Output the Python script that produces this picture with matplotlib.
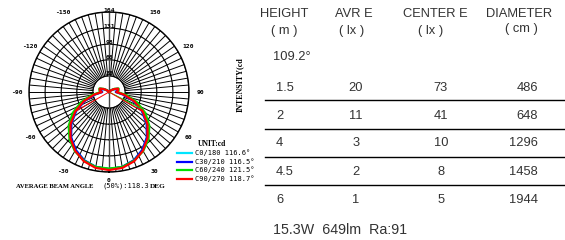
import numpy as np
import matplotlib
matplotlib.use("Agg")
import matplotlib.pyplot as plt

W, H = 565, 240

# ---------------- data ----------------
gamma_deg = [-180, -170, -160, -150, -140, -130, -120, -110, -100, -90,
             -80, -70, -60, -50, -40, -30, -20, -10, 0,
             10, 20, 30, 40, 50, 60, 70, 80, 90,
             100, 110, 120, 130, 140, 150, 160, 170, 180]

c0_180 = [0, 0, 0, 0, 2, 5, 11, 19, 18, 14, 30, 54, 78, 101, 121, 137, 149, 156, 158,
          156, 149, 137, 121, 101, 78, 54, 30, 14, 18, 19, 11, 5, 2, 0, 0, 0, 0]
c30_210 = [0, 0, 0, 0, 2, 5, 11, 19, 18, 14, 29, 53, 78, 101, 121, 137, 149, 156, 158,
           156, 149, 137, 121, 101, 78, 53, 29, 14, 18, 19, 11, 5, 2, 0, 0, 0, 0]
c60_240 = [0, 0, 0, 0, 2, 6, 13, 21, 20, 17, 36, 61, 86, 108, 126, 140, 150, 156, 157,
           156, 150, 140, 126, 108, 86, 61, 36, 17, 20, 21, 13, 6, 2, 0, 0, 0, 0]
c90_270 = [0, 0, 0, 0, 2, 5, 12, 20, 19, 15, 31, 55, 80, 103, 123, 139, 151, 158, 160,
           158, 151, 139, 123, 103, 80, 55, 31, 15, 19, 20, 12, 5, 2, 0, 0, 0, 0]

# coarse half-plane traces running into the centre
thin_red_deg = [-60, 180, 60]
thin_red_val = [80, 0, 80]
thin_green_deg = [180, 63]
thin_green_val = [0, 74]

series_labels = ["C0/180 116.6°", "C30/210 116.5°", "C60/240 121.5°", "C90/270 118.7°"]
series_colors = ["#00e5ff", "#0000ff", "#00e000", "#ff0000"]

ring_values = [33, 66, 98, 131, 164]
angle_ticks = [0, 30, 60, 90, 120, 150, -30, -60, -90, -120, -150]

headers = ["HEIGHT", "AVR E", "CENTER E", "DIAMETER"]
units = ["( m )", "( lx )", "( lx )", "( cm )"]
beam_text = "109.2°"
heights = ["1.5", "2", "4", "4.5", "6"]
avr_e = ["20", "11", "3", "2", "1"]
center_e = ["73", "41", "10", "8", "5"]
diameter = ["486", "648", "1296", "1458", "1944"]
footer = "15.3W  649lm  Ra:91"

# ---------------- figure ----------------
fig = plt.figure(figsize=(W / 100, H / 100), dpi=100)
fig.patch.set_facecolor("white")

def fx(x):
    return x / W

def fy(y):
    return 1 - y / H

cx, cy, R = 109, 92, 80
ax = fig.add_axes([fx(cx - R), fy(cy + R), 2 * R / W, 2 * R / H], projection="polar")
ax.set_theta_zero_location("S")
ax.set_theta_direction(1)
ax.set_ylim(0, 164)
ax.grid(False)
ax.set_xticks([])
ax.set_yticks([])
ax.spines["polar"].set_linewidth(1.0)
ax.spines["polar"].set_color("black")

# grid
tt = np.linspace(0, 2 * np.pi, 721)
for rv in ring_values:
    ax.plot(tt, np.full_like(tt, rv), color="black", lw=0.8, zorder=1)
for a in range(0, 360, 5):
    if a in (0, 180):
        ax.plot([np.deg2rad(a)] * 2, [0, 164], color="#444444", lw=1.0, zorder=1)
    else:
        ax.plot([np.deg2rad(a)] * 2, [33, 164], color="black", lw=0.7, zorder=1)

# curves
th = np.deg2rad(gamma_deg)
for vals, col in zip([c0_180, c30_210, c60_240, c90_270], series_colors):
    ax.plot(th, vals, color=col, lw=1.6, zorder=3)
ax.plot(np.deg2rad(thin_green_deg), thin_green_val, color="#00e000", lw=0.7, zorder=3)
ax.plot(np.deg2rad(thin_red_deg), thin_red_val, color="#ff0000", lw=0.7, zorder=3)

# angle labels
for a in angle_ticks:
    rr = 181 if a == 0 else 188
    ax.text(np.deg2rad(a), rr, str(a), ha="center", va="center",
            fontsize=4.6, family="DejaVu Sans Mono", fontweight="bold",
            clip_on=False)
# radial labels
for rv in ring_values:
    ax.text(np.pi, rv + 4, str(rv), ha="center", va="center",
            fontsize=4.6, family="DejaVu Sans Mono", fontweight="bold", zorder=4)

# intensity label
fig.text(fx(240), fy(85), "INTENSITY(cd", rotation=90, ha="center", va="center",
         fontsize=5.8, family="Liberation Serif", fontweight="bold")

# legend
fig.text(fx(198), fy(144), "UNIT:cd", ha="left", va="center",
         fontsize=5.5, family="Liberation Serif", fontweight="bold")
leg_y = [153, 162, 170, 179]
for lab, col, yy in zip(series_labels, series_colors, leg_y):
    fig.add_artist(plt.Line2D([fx(177), fx(192)], [fy(yy), fy(yy)], color=col, lw=1.6))
    fig.text(fx(195), fy(yy), lab, ha="left", va="center",
             fontsize=5, family="DejaVu Sans Mono")

fig.text(fx(16), fy(186), "AVERAGE BEAM ANGLE", ha="left", va="center",
         fontsize=4.8, family="Liberation Serif", fontweight="bold")
fig.text(fx(103), fy(186), "(50%):118.3", ha="left", va="center",
         fontsize=5.0, family="DejaVu Sans Mono")
fig.text(fx(150), fy(186), "DEG", ha="left", va="center",
         fontsize=5.2, family="Liberation Serif", fontweight="bold")

# ---------------- table ----------------
tcol = "#333333"
tfont = "Liberation Sans"
fs = 9.3
hdr_x = [260, 335, 403, 486]
for hx, h in zip(hdr_x, headers):
    fig.text(fx(hx), fy(14), h, ha="left", va="center", fontsize=fs, family=tfont, color=tcol)
unit_x = [284, 352, 431, 521]
unit_y = [31, 31, 31, 29]
for ux, uy, u in zip(unit_x, unit_y, units):
    fig.text(fx(ux), fy(uy), u, ha="center", va="center", fontsize=fs, family=tfont, color=tcol)

fig.text(fx(273), fy(57), beam_text, ha="left", va="center", fontsize=fs, family=tfont, color=tcol)

row_y = [88, 116, 143, 172, 200]
for i, yy in enumerate(row_y):
    fig.text(fx(276), fy(yy), heights[i], ha="left", va="center", fontsize=fs, family=tfont, color=tcol)
    fig.text(fx(356), fy(yy), avr_e[i], ha="center", va="center", fontsize=fs, family=tfont, color=tcol)
    fig.text(fx(441), fy(yy), center_e[i], ha="center", va="center", fontsize=fs, family=tfont, color=tcol)
    fig.text(fx(538), fy(yy), diameter[i], ha="right", va="center", fontsize=fs, family=tfont, color=tcol)

for ly in [100, 129, 157, 185]:
    fig.add_artist(plt.Line2D([fx(265), fx(565)], [fy(ly), fy(ly)], color="black", lw=1.0))

fig.text(fx(273), fy(230), footer, ha="left", va="center", fontsize=10.3, family=tfont, color=tcol)

fig.savefig("out.png", dpi=100, facecolor="white")
